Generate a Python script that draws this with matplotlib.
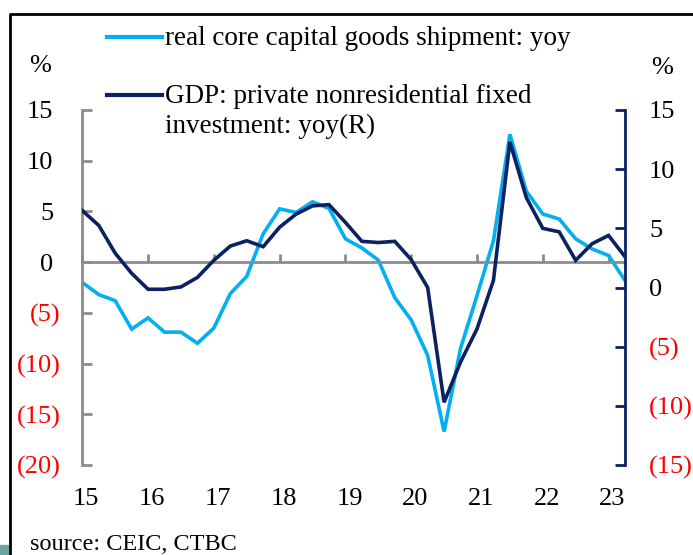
import matplotlib
matplotlib.use("Agg")
import matplotlib.pyplot as plt
from matplotlib.lines import Line2D
from matplotlib.patches import Rectangle
import matplotlib.transforms as mtransforms

# quarterly yoy %, 2015Q1 .. 2023Q2
quarters = [15 + 0.25 * i for i in range(34)]
capex_yoy = [-2.0, -3.2, -3.8, -6.6, -5.5, -6.9, -6.9, -8.0,
             -6.5, -3.1, -1.4, 2.8, 5.25, 4.9, 5.95, 5.3,
             2.3, 1.4, 0.2, -3.5, -5.7, -9.2, -16.7, -8.5,
             -3.3, 2.1, 12.6, 7.0, 4.75, 4.25, 2.3, 1.3,
             0.65, -1.8]
gdp_nonres_yoy = [6.5, 5.25, 2.9, 1.2, -0.15, -0.15, 0.05, 0.85,
                  2.3, 3.5, 3.95, 3.45, 5.1, 6.2, 6.9, 7.0,
                  5.5, 3.9, 3.8, 3.9, 2.35, 0.0, -9.7, -6.3,
                  -3.5, 0.6, 12.3, 7.6, 5.0, 4.7, 2.3, 3.7,
                  4.4, 2.6]

years = [15, 16, 17, 18, 19, 20, 21, 22, 23]
left_ticks = [15, 10, 5, 0, -5, -10, -15, -20]
left_labels = ["15", "10", "5", "0", "(5)", "(10)", "(15)", "(20)"]
right_ticks = [15, 10, 5, 0, -5, -10, -15]
right_labels = ["15", "10", "5", "0", "(5)", "(10)", "(15)"]

LIGHT = "#00b0f0"
NAVY = "#0b2160"
GRAY = "#8c8c8c"
FS = 19
LEG_FS = 19.5
plt.rcParams["font.family"] = ["Liberation Serif", "DejaVu Serif"]

W, H = 693, 555
fig = plt.figure(figsize=(W / 100, H / 100), dpi=100)
ax = fig.add_axes([82.3 / W, 1 - 465 / H, 542.7 / W, 355 / H])
ax2 = ax.twinx()

ax.plot(quarters, capex_yoy, color=LIGHT, lw=2.6, solid_joinstyle="miter")
ax2.plot(quarters, gdp_nonres_yoy, color=NAVY, lw=2.6, solid_joinstyle="miter")

ax.set_xlim(15, 23.25)
ax.set_ylim(-20, 15)
ax2.set_ylim(-15, 15)

# zero line doubles as the x axis, year ticks pointing up
for s in ["top", "right"]:
    ax.spines[s].set_visible(False)
for s in ["top", "left", "bottom"]:
    ax2.spines[s].set_visible(False)
ax.spines["bottom"].set_position(("data", 0))
ax.spines["bottom"].set_color(GRAY)
ax.spines["bottom"].set_linewidth(2)
ax.spines["left"].set_color(GRAY)
ax.spines["left"].set_linewidth(2)
ax2.spines["right"].set_color(NAVY)
ax2.spines["right"].set_linewidth(2)

ax.set_xticks(years)
ax.tick_params(axis="x", direction="in", length=6, width=2, color=GRAY,
               labelbottom=False)

# accounting-style labels: negatives in red brackets, positives padded by ")"
ax.set_yticks(left_ticks)
ax.set_yticklabels(left_labels)
ax.tick_params(axis="y", direction="in", length=7, width=2, color=GRAY,
               pad=15.8, labelsize=FS)
nudge = mtransforms.ScaledTranslation(-7 / 100, 0, fig.dpi_scale_trans)
for lbl, v in zip(ax.get_yticklabels(), left_ticks):
    lbl.set_ha("right")
    if v < 0:
        lbl.set_color("red")
    else:
        lbl.set_transform(lbl.get_transform() + nudge)

ax2.set_yticks(right_ticks)
ax2.set_yticklabels(right_labels)
ax2.tick_params(axis="y", direction="in", length=7, width=2, color=NAVY,
                pad=17.3, labelsize=FS)
for lbl, v in zip(ax2.get_yticklabels(), right_ticks):
    lbl.set_color("red" if v < 0 else "black")

# year labels along the bottom
shift = mtransforms.ScaledTranslation(4 / 100, 0, fig.dpi_scale_trans)
for y in years:
    ax.text(y, -0.096, str(y), transform=ax.get_xaxis_transform() + shift,
            ha="center", va="center", fontsize=FS)

ax.text(-0.078, 1.124, "%", transform=ax.transAxes, ha="center", va="center", fontsize=FS)
ax.text(1.068, 1.118, "%", transform=ax.transAxes, ha="center", va="center", fontsize=FS)

# legend
fig.add_artist(Line2D([107 / W, 162 / W], [1 - 37 / H] * 2, color=LIGHT, lw=3))
fig.text(165 / W, 1 - 45 / H, "real core capital goods shipment: yoy",
         ha="left", va="baseline", fontsize=LEG_FS)
fig.add_artist(Line2D([107 / W, 162 / W], [1 - 95 / H] * 2, color=NAVY, lw=3))
fig.text(165 / W, 1 - 103 / H, "GDP: private nonresidential fixed",
         ha="left", va="baseline", fontsize=LEG_FS)
fig.text(165 / W, 1 - 133 / H, "investment: yoy(R)",
         ha="left", va="baseline", fontsize=LEG_FS)

fig.text(30 / W, 1 - 544 / H, "source: CEIC, CTBC", ha="left", va="center", fontsize=17.5)

# outer frame
fig.add_artist(Line2D([10 / W, 10 / W, 1], [0, 1 - 14 / H, 1 - 14 / H],
                      color="black", lw=2))
fig.add_artist(Rectangle((0, 0), 8 / W, 10 / H, color="#6aa5a5",
                         transform=fig.transFigure))

fig.savefig("out.png", dpi=100)
